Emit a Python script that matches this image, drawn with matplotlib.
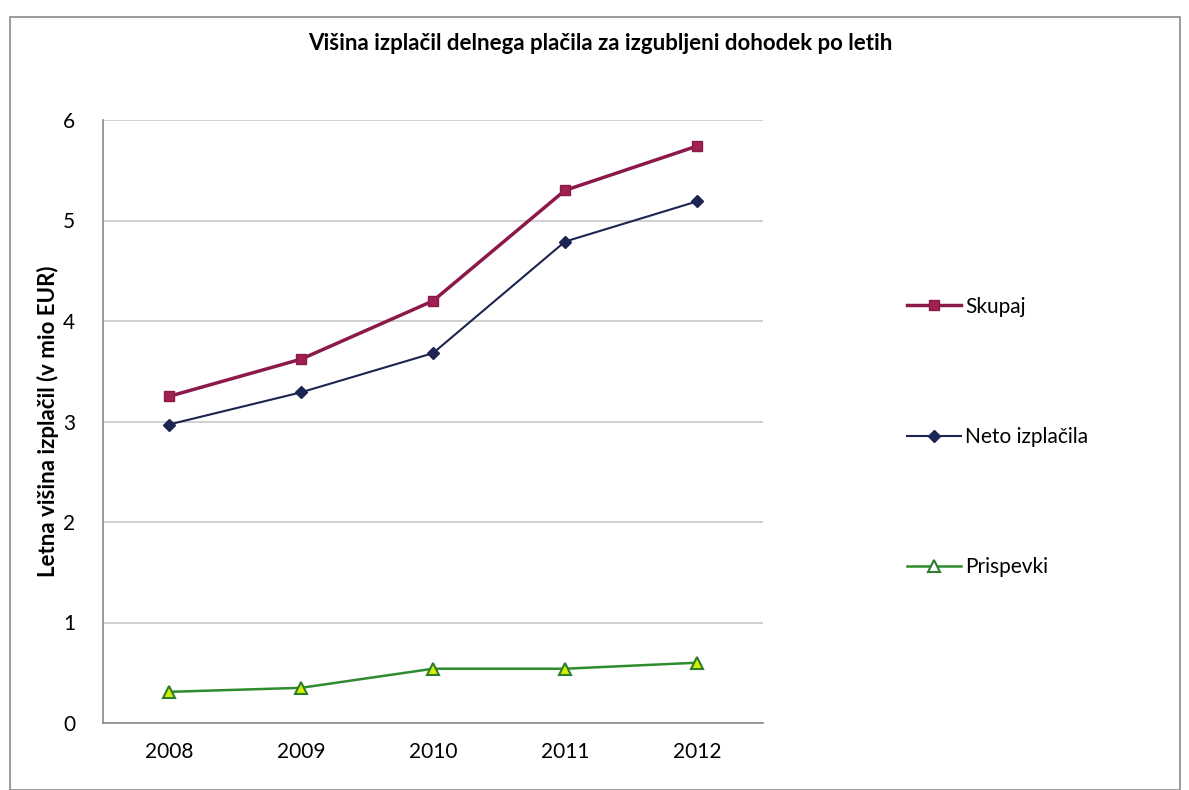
import matplotlib
matplotlib.use("Agg")
import matplotlib.pyplot as plt
from matplotlib.patches import Rectangle
from matplotlib.lines import Line2D

plt.rcParams['font.family'] = ['Lato', 'DejaVu Sans']

years = ["2008", "2009", "2010", "2011", "2012"]
skupaj = [3.25, 3.62, 4.20, 5.30, 5.74]
neto = [2.97, 3.29, 3.68, 4.79, 5.19]
prispevki = [0.31, 0.35, 0.54, 0.54, 0.60]
labels = ["Skupaj", "Neto izplačila", "Prispevki"]
yticks = [0, 1, 2, 3, 4, 5, 6]

W, H = 1189, 790
fig = plt.figure(figsize=(W / 100, H / 100), dpi=100)

# outer chart border
fig.patches.append(Rectangle((10 / W, 0), (1180 - 10) / W, (790 - 17) / H,
                             transform=fig.transFigure, fill=False,
                             edgecolor="#8a8a8a", linewidth=1.2))

ax = fig.add_axes([103 / W, 1 - 723 / H, (763 - 103) / W, (723 - 120) / H])
x = list(range(len(years)))

ax.plot(x, skupaj, color="#8B1A4A", linewidth=2.5, marker="s", markersize=7,
        markerfacecolor="#A0204F", markeredgecolor="#8B1A4A")
ax.plot(x, neto, color="#1C2452", linewidth=1.5, marker="D", markersize=6,
        markerfacecolor="#1C2452", markeredgecolor="#1C2452")
ax.plot(x, prispevki, color="#2E8B2E", linewidth=1.8, marker="^", markersize=9,
        markerfacecolor="#D4F000", markeredgecolor="#2E7D2E", markeredgewidth=1.5)

ax.set_xlim(-0.5, len(years) - 0.5)
ax.set_ylim(0, 6)
ax.set_yticks(yticks)
ax.set_yticklabels([str(v) for v in yticks], fontsize=15)
ax.set_xticks(x)
ax.set_xticklabels(years, fontsize=15)
ax.tick_params(axis="both", length=0, pad=14)
ax.tick_params(axis="y", pad=20)
ax.grid(axis="y", color="#c8c8c8", linewidth=1.2)
ax.set_axisbelow(True)
for s in ["top", "right"]:
    ax.spines[s].set_visible(False)
ax.spines["left"].set_color("#8a8a8a")
ax.spines["bottom"].set_color("#8a8a8a")
ax.spines["left"].set_linewidth(1.2)
ax.spines["bottom"].set_linewidth(1.2)

ax.set_ylabel("Letna višina izplačil (v mio EUR)", fontsize=16, fontweight="bold",
              labelpad=3)

fig.text(600 / W, 1 - 44 / H, "Višina izplačil delnega plačila za izgubljeni dohodek po letih",
         ha="center", va="center", fontsize=16, fontweight="bold")

# legend
handles = [
    Line2D([], [], color="#8B1A4A", linewidth=2.5, marker="s", markersize=7,
           markerfacecolor="#A0204F", markeredgecolor="#8B1A4A"),
    Line2D([], [], color="#1C2452", linewidth=1.5, marker="D", markersize=6,
           markerfacecolor="#1C2452"),
    Line2D([], [], color="#2E8B2E", linewidth=1.8, marker="^", markersize=8,
           markerfacecolor="white", markeredgecolor="#2E7D2E", markeredgewidth=1.5),
]
fig.legend(handles, labels, loc="center left", bbox_to_anchor=(888 / W, 1 - 437 / H),
           frameon=False, fontsize=15, labelspacing=5.3, handlelength=2.6,
           handletextpad=0.2)

fig.savefig("out.png", dpi=100)
